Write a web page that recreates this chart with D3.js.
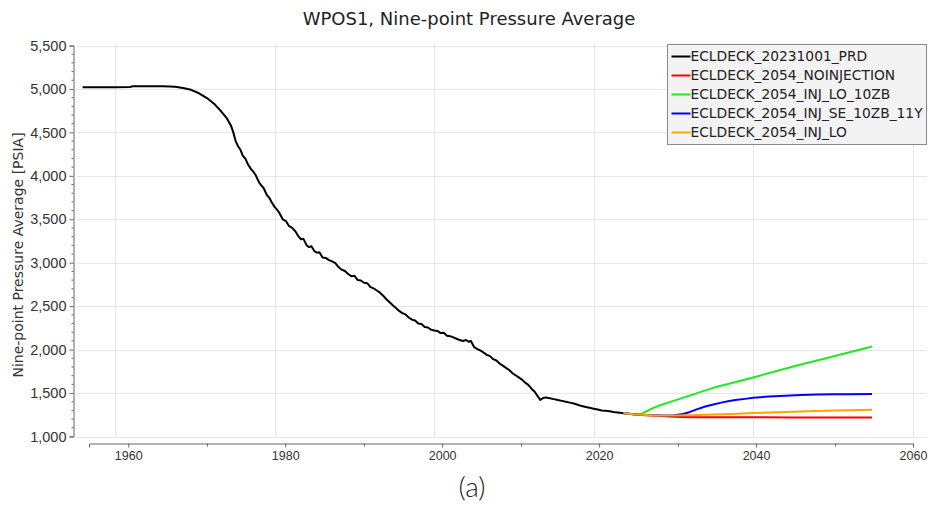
<!DOCTYPE html>
<html>
<head>
<meta charset="utf-8">
<script src="https://d3js.org/d3.v7.min.js"></script>
<style>
  body { margin: 0; background: #fff; }
  svg { display: block; font-family: "DejaVu Sans", sans-serif; }
  .grid line { stroke: #e6e6e6; stroke-width: 1; }
  .axis path, .axis line { stroke: #666; }
  .axis text { fill: #333; }
</style>
</head>
<body>
<svg id="chart" width="935" height="507"></svg>
<script>
// history (PRD)
var prdYears = [1955.9, 1960, 1961.9, 1962.1, 1966, 1967.5, 1968.5, 1969.5, 1970.5, 1971.5,
  1972.5, 1973.3, 1974.0, 1974.5, 1974.8, 1975.1, 1975.4, 1975.7, 1976.0, 1976.3,
  1976.6, 1977.0, 1977.3, 1977.6, 1978.0, 1978.3, 1978.6, 1979.0, 1979.3, 1979.6,
  1980.0, 1980.3, 1980.6, 1981.0, 1981.4, 1981.8, 1982.2, 1982.6, 1983.0, 1983.3,
  1983.6, 1984.0, 1984.3, 1984.6, 1985.0, 1985.3, 1985.6, 1986.0, 1986.4, 1986.8,
  1987.2, 1987.6, 1988.0, 1988.4, 1988.8, 1989.2, 1989.6, 1990.0, 1990.4, 1990.8,
  1991.2, 1991.6, 1992.0, 1992.4, 1992.8, 1993.2, 1993.6, 1994.0, 1994.4, 1994.8,
  1995.2, 1995.6, 1996.0, 1996.4, 1996.8, 1997.2, 1997.6, 1998.0, 1998.4, 1998.8,
  1999.2, 1999.6, 2000.0, 2000.4, 2000.8, 2001.2, 2001.6, 2002.0, 2002.4, 2002.8,
  2003.2, 2003.6, 2004.0, 2004.3, 2004.6, 2005.0, 2005.4, 2005.8, 2006.2, 2006.6,
  2007.0, 2007.4, 2007.8, 2008.2, 2008.6, 2009.0, 2009.4, 2009.8, 2010.2, 2010.6,
  2011.0, 2011.4, 2011.8, 2012.2, 2012.6, 2013.0, 2013.3, 2013.6, 2014.0, 2014.5,
  2015.0, 2015.5, 2016.0, 2016.5, 2017.0, 2017.5, 2018.0, 2018.5, 2019.0, 2019.5,
  2020.0, 2020.5, 2021.0, 2021.5, 2022.0, 2022.5, 2023.0, 2023.75];
var prdValues = [5020, 5020, 5022, 5030, 5030, 5025, 5010, 4990, 4950, 4895,
  4820, 4740, 4660, 4580, 4500, 4400, 4340, 4300, 4230, 4200,
  4140, 4080, 4050, 4010, 3930, 3890, 3860, 3780, 3750, 3700,
  3640, 3610, 3570, 3500, 3480, 3420, 3400, 3360, 3300, 3270,
  3275, 3200, 3180, 3190, 3130, 3115, 3120, 3060, 3055, 3030,
  3015, 2995, 2950, 2920, 2905, 2870, 2845, 2850, 2800, 2795,
  2770, 2765, 2720, 2705, 2680, 2655, 2620, 2580, 2545, 2510,
  2480, 2445, 2420, 2405, 2370, 2345, 2335, 2300, 2295, 2260,
  2255, 2230, 2220, 2215, 2190, 2195, 2160, 2155, 2140, 2125,
  2110, 2100, 2110, 2090, 2100, 2030, 2005, 1990, 1965, 1940,
  1925, 1890, 1875, 1840, 1815, 1790, 1765, 1730, 1705, 1680,
  1655, 1620, 1595, 1550, 1515, 1460, 1420, 1440, 1450, 1440,
  1430, 1420, 1410, 1400, 1390, 1380, 1365, 1350, 1340, 1330,
  1320, 1310, 1300, 1295, 1290, 1282, 1276, 1268];

// forecasts from Oct 2023
var noInjYears = [2023.75, 2025, 2026, 2027, 2028, 2029, 2030, 2031, 2033, 2036, 2040, 2045, 2050, 2054.9];
var noInjValues = [1268, 1255, 1248, 1243, 1238, 1232, 1227, 1224, 1222, 1221, 1221, 1220, 1220, 1220];

var injLo10zbYears = [2023.75, 2025, 2025.8, 2026.5, 2027.5, 2028.5, 2030, 2032, 2035, 2040, 2045, 2050, 2054.9];
var injLo10zbValues = [1268, 1255, 1252, 1285, 1330, 1365, 1410, 1470, 1560, 1680, 1805, 1920, 2035];

var injSeYears = [2023.75, 2025, 2026, 2027, 2028, 2029, 2030, 2031, 2032, 2033, 2034, 2035, 2036, 2037,
  2038, 2039, 2040, 2042, 2044, 2046, 2048, 2050, 2052, 2054.9];
var injSeValues = [1268, 1255, 1249, 1246, 1244, 1243, 1245, 1255, 1280, 1315, 1345, 1368, 1390, 1408,
  1422, 1433, 1445, 1460, 1470, 1477, 1482, 1485, 1487, 1488];

var injLoYears = [2023.75, 2025, 2026, 2027, 2028, 2029, 2030, 2032, 2034, 2036, 2038, 2040, 2042,
  2044, 2046, 2048, 2050, 2052, 2054.9];
var injLoValues = [1268, 1255, 1249, 1245, 1243, 1242, 1242, 1245, 1250, 1256, 1262, 1270, 1276,
  1282, 1288, 1293, 1298, 1303, 1308];

var seriesNames = ['ECLDECK_20231001_PRD', 'ECLDECK_2054_NOINJECTION', 'ECLDECK_2054_INJ_LO_10ZB',
  'ECLDECK_2054_INJ_SE_10ZB_11Y', 'ECLDECK_2054_INJ_LO'];
var seriesColors = ['#000000', '#ff0000', '#22e822', '#0000ff', '#ffa500'];

var yTicks = [1000, 1500, 2000, 2500, 3000, 3500, 4000, 4500, 5000, 5500];
var xTicks = [1960, 1980, 2000, 2020, 2040, 2060];
var xMinorTicks = [1970, 1990, 2010, 2030, 2050];

var
  svg = d3.select('#chart'),
  plot = {left: 77, right: 927, top: 45.5, bottom: 436.5},
  xScale = d3.scaleLinear().domain([1955.2, 2061.8]).range([plot.left, plot.right]),
  // the bottom axis is drawn on its own, slightly narrower, span
  xAxisScale = d3.scaleLinear().domain([1955, 2060]).range([89, 913]),
  yScale = d3.scaleLinear().domain([1000, 5500]).range([plot.bottom, plot.top]),
  fmt = d3.format(',')
  ;

function zip(xs, ys){
  return xs.map(function(x, i){ return [x, ys[i]]; });
}

var series = [
  zip(prdYears, prdValues),
  zip(noInjYears, noInjValues),
  zip(injLo10zbYears, injLo10zbValues),
  zip(injSeYears, injSeValues),
  zip(injLoYears, injLoValues)
];

// grid
var grid = svg.append('g').attr('class', 'grid');
grid.selectAll('.h')
  .data(yTicks)
  .enter().append('line')
  .attr('x1', plot.left).attr('x2', plot.right)
  .attr('y1', function(d){ return Math.round(yScale(d)) + 0.5; })
  .attr('y2', function(d){ return Math.round(yScale(d)) + 0.5; });
grid.selectAll('.v')
  .data(xTicks)
  .enter().append('line')
  .attr('y1', plot.top - 2).attr('y2', plot.bottom)
  .attr('x1', function(d){ return Math.round(xScale(d)) + 0.5; })
  .attr('x2', function(d){ return Math.round(xScale(d)) + 0.5; });

// lines
var line = d3.line()
  .x(function(d){ return xScale(d[0]); })
  .y(function(d){ return yScale(d[1]); });

svg.append('g').selectAll('path')
  .data(series)
  .enter().append('path')
  .attr('fill', 'none')
  .attr('stroke', function(d, i){ return seriesColors[i]; })
  .attr('stroke-width', 2)
  .attr('stroke-linejoin', 'round')
  .attr('d', line);

// y axis
var yMinor = d3.range(1000, 5501, 100).filter(function(d){ return d % 500 !== 0; });
var yAxis = svg.append('g')
  .attr('class', 'axis')
  .attr('transform', 'translate(73.5,0)')
  .call(d3.axisLeft(yScale).tickValues(yTicks).tickFormat(fmt).tickSizeOuter(0).tickSize(4).tickPadding(3));
yAxis.selectAll('text').style('font-size', '14.5px');
yAxis.selectAll('.minor')
  .data(yMinor)
  .enter().append('line')
  .attr('class', 'minor')
  .attr('stroke', '#666')
  .attr('x1', -2).attr('x2', 0)
  .attr('y1', function(d){ return yScale(d); })
  .attr('y2', function(d){ return yScale(d); });

// x axis
var xAxis = svg.append('g')
  .attr('class', 'axis')
  .attr('transform', 'translate(0,443.5)')
  .call(d3.axisBottom(xAxisScale).tickValues(xTicks).tickFormat(d3.format('d')).tickSizeOuter(0).tickSize(4).tickPadding(4));
xAxis.selectAll('text').style('font-size', '12.5px');
xAxis.selectAll('.minor')
  .data(xMinorTicks)
  .enter().append('line')
  .attr('class', 'minor')
  .attr('stroke', '#666')
  .attr('y1', 0).attr('y2', 3)
  .attr('x1', function(d){ return Math.round(xAxisScale(d)) + 0.5; })
  .attr('x2', function(d){ return Math.round(xAxisScale(d)) + 0.5; });

// titles
svg.append('text')
  .attr('x', 469).attr('y', 25)
  .attr('text-anchor', 'middle')
  .style('font-size', '18px').attr('fill', '#222')
  .text('WPOS1, Nine-point Pressure Average');

svg.append('text')
  .attr('transform', 'translate(23,255) rotate(-90)')
  .attr('text-anchor', 'middle')
  .style('font-size', '14px').attr('fill', '#333')
  .text('Nine-point Pressure Average [PSIA]');

svg.append('text')
  .attr('x', 472).attr('y', 497)
  .attr('text-anchor', 'middle')
  .style('font-family', 'Lato, sans-serif').style('font-weight', 300)
  .style('font-size', '28px').attr('fill', '#222')
  .text('(a)');

// legend
var legend = svg.append('g').attr('transform', 'translate(667.5,44.5)');
legend.append('rect')
  .attr('width', 259).attr('height', 100)
  .attr('fill', '#f3f3f3').attr('stroke', '#8a8a8a');
var item = legend.selectAll('.item')
  .data(seriesNames)
  .enter().append('g')
  .attr('transform', function(d, i){ return 'translate(0,' + (12 + i * 19) + ')'; });
item.append('line')
  .attr('x1', 4).attr('x2', 23)
  .attr('stroke', function(d, i){ return seriesColors[i]; })
  .attr('stroke-width', 2);
item.append('text')
  .attr('x', 23).attr('dy', '0.35em')
  .style('font-size', '13.8px').attr('fill', '#222')
  .text(function(d){ return d; });
</script>
</body>
</html>
